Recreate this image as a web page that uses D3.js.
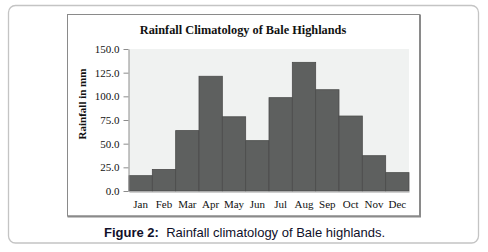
<!DOCTYPE html>
<html>
<head>
<meta charset="utf-8">
<script src="https://cdn.jsdelivr.net/npm/d3@7"></script>
<style>
body{margin:0;background:#fff;}
svg{display:block;}
</style>
</head>
<body>
<svg width="488" height="252"></svg>
<script>
var months = ['Jan','Feb','Mar','Apr','May','Jun','Jul','Aug','Sep','Oct','Nov','Dec'];
var rainfall = [16.2, 22.8, 63.8, 121.2, 78.4, 53.2, 98.6, 135.9, 107.0, 79.2, 37.3, 19.4];
var yticks = [0, 25, 50, 75, 100, 125, 150];

var svg = d3.select('svg');
var margin = {left:129,right:79,top:49,bottom:61};
var width = +svg.attr('width'), height = +svg.attr('height');
var innerwidth = width - margin.left - margin.right;
var innerheight = height - margin.top - margin.bottom;

// outer rounded panel
svg.append('rect').attr('x',8.5).attr('y',5.5).attr('width',470).attr('height',237.5)
	.attr('rx',7).attr('fill','#fff').attr('stroke','#c4c4c4').attr('stroke-width',1.3);

// chart frame
svg.append('rect').attr('x',67.5).attr('y',14.5).attr('width',352).attr('height',201.5)
	.attr('fill','#fff').attr('stroke','#8a8a8a').attr('stroke-width',1);
svg.append('path').attr('d','M420,14.5 V216.5 H67.5').attr('fill','none')
	.attr('stroke','#8a8a8a').attr('stroke-width',2);

svg.append('text').attr('x',243).attr('y',34).attr('text-anchor','middle')
	.style('font-family','Liberation Serif').style('font-weight','bold').style('font-size','12.3px')
	.attr('fill','#111').text('Rainfall Climatology of Bale Highlands');

var xscale = d3.scaleBand().domain(months).range([0,innerwidth]).padding(0);
var yscale = d3.scaleLinear().domain([0,150]).range([innerheight,0]);

var g = svg.append('g').attr('transform',`translate(${margin.left},${margin.top})`);

g.append('rect').attr('width',innerwidth).attr('height',innerheight).attr('fill','#f0f2f1');

g.append('g').selectAll('rect').data(rainfall)
	.enter()
	.append('rect')
	.attr('x',(d,i) => xscale(months[i]))
	.attr('y',d => yscale(d))
	.attr('width',xscale.bandwidth())
	.attr('height',d => innerheight - yscale(d))
	.attr('fill','#5e605f')
	.attr('stroke','#4b4c4b')
	.attr('stroke-width',0.8);

var yaxis = g.append('g').attr('transform','translate(-0.5,0)')
	.call(d3.axisLeft(yscale).tickValues(yticks).tickFormat(d3.format('.1f')).tickSize(5).tickSizeOuter(0));
yaxis.select('.domain').attr('stroke','#8c8c8c');
yaxis.selectAll('.tick line').attr('stroke','#8c8c8c');
yaxis.selectAll('text').attr('fill','#111').attr('x',-9)
	.style('font-family','Liberation Serif').style('font-size','11px');

var xaxis = g.append('g').attr('transform',`translate(0,${innerheight+0.5})`)
	.call(d3.axisBottom(xscale).tickSize(0).tickPadding(9));
xaxis.select('.domain').attr('stroke','#a0a0a0');
xaxis.selectAll('text').attr('fill','#111')
	.style('font-family','Liberation Serif').style('font-size','11px');

svg.append('text').attr('transform','translate(85.5,104) rotate(-90)').attr('text-anchor','middle')
	.style('font-family','Liberation Serif').style('font-weight','bold').style('font-size','11px')
	.attr('fill','#111').text('Rainfall in mm');

var cap = svg.append('text').attr('x',104).attr('y',237)
	.style('font-family','Liberation Sans').style('font-size','13px').attr('fill','#10102a');
cap.append('tspan').style('font-weight','bold').text('Figure 2:');
cap.append('tspan').attr('xml:space','preserve').text('\u00a0 Rainfall climatology of Bale highlands.');
</script>
</body>
</html>
